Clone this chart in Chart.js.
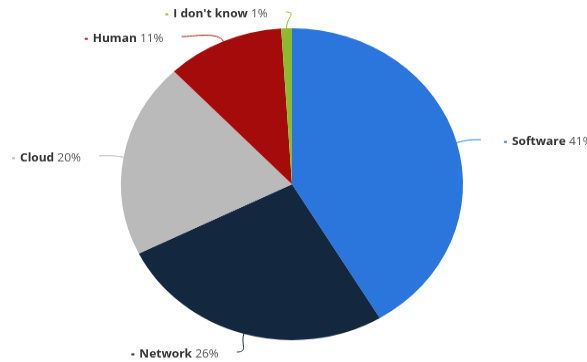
<!DOCTYPE html>
<html>
<head>
<meta charset="utf-8">
<script src="https://cdn.jsdelivr.net/npm/chart.js@4.4.1/dist/chart.umd.min.js"></script>
<style>
  html, body { margin: 0; padding: 0; background: #fff; overflow: hidden; }
  /* the original picture is a little squashed vertically, so the canvas is too */
  #wrap { width: 587px; height: 397px; transform: scale(1, 0.912); transform-origin: 0 0; }
  #pie { display: block; }
</style>
</head>
<body>
<div id="wrap"><canvas id="pie" width="587" height="397"></canvas></div>
<script>
const categories = ["Software", "Network", "Cloud", "Human", "I don't know"];
const shares = [41, 26, 20, 11, 1];
const sliceColors = ["#2a76dd", "#13283f", "#bababa", "#a50b0b", "#8cbb2b"];

// labels outside the pie, joined to their slice by a soft connector
const outsideLabels = {
  id: "outsideLabels",
  afterDatasetsDraw(chart) {
    const ctx = chart.ctx;
    const arcs = chart.getDatasetMeta(0).data;
    if (!arcs.length) return;
    const cx = arcs[0].x, cy = arcs[0].y, r = arcs[0].outerRadius;
    const ring = r + 25;
    const top = 12, bottom = chart.height - 11, gap = 27;

    const items = arcs.map((arc, i) => {
      const mid = (arc.startAngle + arc.endAngle) / 2;
      const cos = Math.cos(mid), sin = Math.sin(mid);
      const natural = Math.min(Math.max(cy + (r + 20) * sin + 2, top), bottom);
      return { i, cos, sin, left: cos < 0, natural, y: natural };
    });

    // push labels apart on each side
    [true, false].forEach((side) => {
      const list = items.filter((it) => it.left === side).sort((a, b) => a.natural - b.natural);
      for (let k = 1; k < list.length; k++) {
        list[k].y = Math.max(list[k].y, list[k - 1].y + gap);
      }
      for (let k = list.length - 1; k >= 0; k--) {
        const limit = k === list.length - 1 ? bottom : list[k + 1].y - gap;
        list[k].y = Math.min(list[k].y, limit);
      }
    });

    const boldFont = "bold 12px 'Open Sans', sans-serif";
    const normFont = "12px 'Open Sans', sans-serif";

    items.forEach((it) => {
      const moved = Math.abs(it.y - it.natural) > 0.5;
      const dx = moved
        ? Math.sqrt(Math.max(ring * ring - (it.y - cy) * (it.y - cy), 0))
        : Math.abs(ring * it.cos);
      const dir = it.left ? -1 : 1;
      const ex = cx + dir * dx, ey = it.y;
      const px = cx + r * it.cos, py = cy + r * it.sin;
      const color = sliceColors[it.i];

      // connector
      ctx.save();
      ctx.strokeStyle = color;
      ctx.lineWidth = 1;
      ctx.beginPath();
      ctx.moveTo(ex, ey);
      ctx.bezierCurveTo(ex - dir * 12, ey, px + it.cos * 12, py + it.sin * 12, px, py);
      ctx.stroke();

      // text, sitting a touch below the connector end
      const ty = ey + 2.5;
      const name = categories[it.i];
      const pct = shares[it.i] + "%";
      ctx.textBaseline = "middle";
      ctx.textAlign = "left";
      ctx.font = boldFont;
      const wName = ctx.measureText(name).width;
      ctx.font = normFont;
      const wPct = ctx.measureText(pct).width;
      const wSpace = ctx.measureText(" ").width;
      const total = wName + wSpace + wPct;
      const nameX = it.left ? ex - 18 - total : ex + 31;

      ctx.fillStyle = color;
      ctx.fillRect(nameX - 8, ty - 1, 3, 2);

      ctx.fillStyle = "#333333";
      ctx.font = boldFont;
      ctx.fillText(name, nameX, ty);
      ctx.fillStyle = "#555555";
      ctx.font = normFont;
      ctx.fillText(pct, nameX + wName + wSpace, ty);
      ctx.restore();
    });
  }
};

new Chart(document.getElementById("pie"), {
  type: "pie",
  data: {
    labels: categories,
    datasets: [{
      data: shares,
      backgroundColor: sliceColors,
      borderWidth: 0
    }]
  },
  options: {
    responsive: false,
    animation: false,
    layout: { padding: { left: 121, right: 124, top: 31, bottom: 24 } },
    plugins: {
      legend: { display: false },
      tooltip: { enabled: false }
    }
  },
  plugins: [outsideLabels]
});
</script>
</body>
</html>
